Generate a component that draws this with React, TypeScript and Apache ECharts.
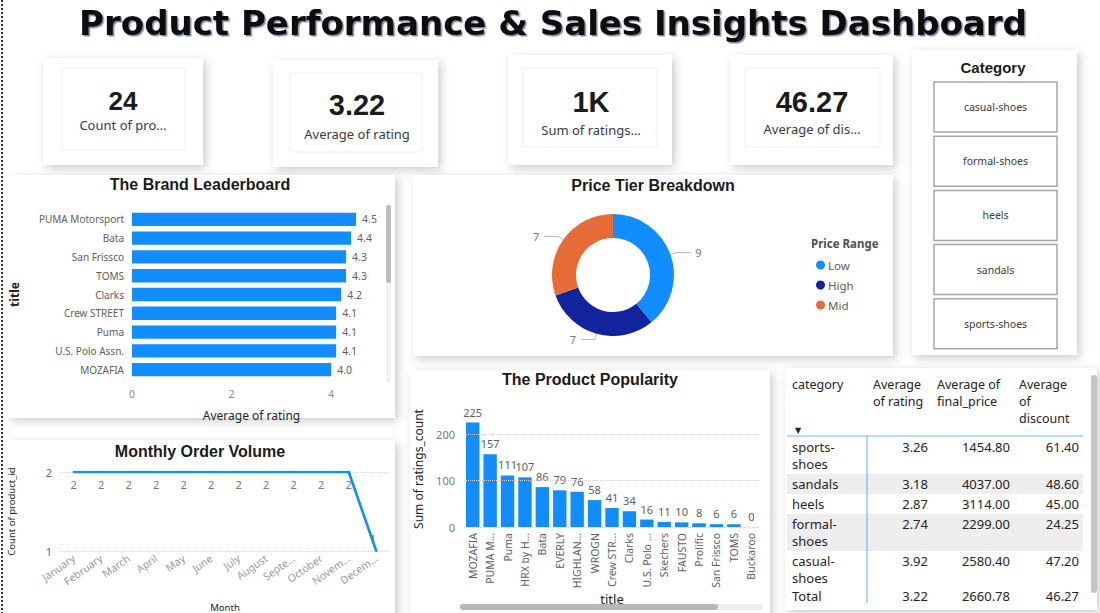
import React, { useEffect, useRef } from "react";
import * as echarts from "echarts";

// ---------- DATA ----------
const dashboardTitle = "Product Performance & Sales Insights Dashboard";

const kpiValues = ["24", "3.22", "1K", "46.27"];
const kpiLabels = ["Count of pro…", "Average of rating", "Sum of ratings…", "Average of dis…"];

const brandNames = ["PUMA Motorsport", "Bata", "San Frissco", "TOMS", "Clarks", "Crew STREET", "Puma", "U.S. Polo Assn.", "MOZAFIA"];
const brandRatings = [4.5, 4.4, 4.3, 4.3, 4.2, 4.1, 4.1, 4.1, 4.0];
const brandTicks = [0, 2, 4];

const priceTiers = ["Low", "High", "Mid"];
const priceTierCounts = [9, 7, 7];

const monthLabels = ["January", "February", "March", "April", "May", "June", "July", "August", "Septe…", "October", "Novem…", "Decem…"];
const monthlyCounts = [2, 2, 2, 2, 2, 2, 2, 2, 2, 2, 2, 1];

const productTitles = ["MOZAFIA", "PUMA M…", "Puma", "HRX by H…", "Bata", "EVERLY", "HIGHLAN…", "WROGN", "Crew STR…", "Clarks", "U.S. Polo …", "Skechers", "FAUSTO", "Prolific", "San Frissco", "TOMS", "Buckaroo"];
const productRatingsCount = [225, 157, 111, 107, 86, 79, 76, 58, 41, 34, 16, 11, 10, 8, 6, 6, 0];
const popularityGridValues = [0, 100, 200];

const slicerCategories = ["casual-shoes", "formal-shoes", "heels", "sandals", "sports-shoes"];

const tableHeaders = ["category", "Average\nof rating", "Average of\nfinal_price", "Average\nof\ndiscount"];
const tableCategories = ["sports-shoes", "sandals", "heels", "formal-shoes", "casual-shoes"];
const tableRating = [3.26, 3.18, 2.87, 2.74, 3.92];
const tablePrice = [1454.8, 4037.0, 3114.0, 2299.0, 2580.4];
const tableDiscount = [61.4, 48.6, 45.0, 24.25, 47.2];
const tableTotals = [3.22, 2660.78, 46.27];

// ---------- STYLE ----------
const F = "'Noto Sans', sans-serif";
const FB = "'Liberation Sans', Arial, sans-serif";
const BLUE = "#118DFF";

function panel(x: number, y: number, w: number, h: number) {
  return {
    type: "rect",
    silent: true,
    z: 0,
    shape: { x, y, width: w, height: h },
    style: { fill: "#ffffff", shadowBlur: 10, shadowColor: "rgba(0,0,0,0.2)", shadowOffsetX: 3, shadowOffsetY: 3 },
  };
}

function txt(x: number, y: number, text: string, o: any = {}) {
  const align = o.align || "center";
  const va = o.va || "middle";
  return {
    type: "text",
    silent: true,
    z: o.z || 10,
    x,
    y,
    style: {
      text,
      fill: o.fill || "#252423",
      fontSize: o.size || 12,
      fontFamily: o.family || F,
      fontWeight: o.weight || "normal",
      align,
      textAlign: align,
      verticalAlign: va,
      textVerticalAlign: va,
      lineHeight: o.lineHeight,
      textShadowColor: o.shadowColor,
      textShadowOffsetX: o.shadowX,
      textShadowOffsetY: o.shadowY,
      textShadowBlur: o.shadowBlur,
    },
  };
}

function buildGraphics() {
  const g: any[] = [];
  // left dotted border
  g.push({ type: "line", silent: true, z: 1, shape: { x1: 2, y1: 0, x2: 2, y2: 613 }, style: { stroke: "#333", lineWidth: 2, lineDash: [2, 2] } });

  // title
  g.push(txt(553, 23, dashboardTitle, { size: 34, family: "'DejaVu Sans', sans-serif", weight: "bold", fill: "#111", shadowColor: "rgba(20,30,80,0.55)", shadowX: 1.5, shadowY: 1.5, shadowBlur: 1 }));

  // KPI cards
  const cards = [
    { x: 43, y: 58, w: 160, h: 107, ix: 62, iy: 68, iw: 123, ih: 82, cx: 123, vy: 101, ly: 125, vs: 26 },
    { x: 273, y: 60, w: 165, h: 107, ix: 290, iy: 73, iw: 132, ih: 79, cx: 357, vy: 105, ly: 134, vs: 29 },
    { x: 508, y: 55, w: 164, h: 110, ix: 523, iy: 68, iw: 134, ih: 79, cx: 591, vy: 102, ly: 130, vs: 29 },
    { x: 730, y: 55, w: 163, h: 110, ix: 745, iy: 68, iw: 135, ih: 79, cx: 812, vy: 102, ly: 129, vs: 29 },
  ];
  cards.forEach((c, i) => {
    g.push(panel(c.x, c.y, c.w, c.h));
    g.push({ type: "rect", silent: true, z: 1, shape: { x: c.ix, y: c.iy, width: c.iw, height: c.ih }, style: { fill: "none", stroke: "#f1f1f1", lineWidth: 1 } });
    g.push(txt(c.cx, c.vy, kpiValues[i], { size: c.vs, family: FB, weight: "bold", fill: "#1b1b1b" }));
    g.push(txt(c.cx, c.ly, kpiLabels[i], { size: 13, fill: "#3b3a39" }));
  });

  // slicer
  g.push(panel(912, 50, 165, 305));
  g.push(txt(993, 67, "Category", { size: 15, family: FB, weight: "bold", fill: "#1b1b1b" }));
  slicerCategories.forEach((c, i) => {
    const y = 82 + i * 54.2;
    g.push({ type: "rect", silent: true, z: 2, shape: { x: 934, y, width: 123, height: 50 }, style: { fill: "#fff", stroke: "#a6a6a6", lineWidth: 1.5 } });
    g.push(txt(995.5, y + 25, c, { size: 10.5, fill: "#3b3a39" }));
  });

  // chart panels
  g.push(panel(8, 175, 387, 243));
  g.push(txt(200, 184, "The Brand Leaderboard", { size: 16, family: FB, weight: "bold", fill: "#1b1b1b" }));
  g.push({ type: "rect", silent: true, z: 2, shape: { x: 386, y: 205, width: 5, height: 178, r: 2.5 }, style: { fill: "#f2f2f2" } });
  g.push({ type: "rect", silent: true, z: 3, shape: { x: 386, y: 205, width: 5, height: 78, r: 2.5 }, style: { fill: "#bdbdbd" } });

  g.push(panel(413, 175, 480, 181));
  g.push(txt(653, 185, "Price Tier Breakdown", { size: 16, family: FB, weight: "bold", fill: "#1b1b1b" }));
  g.push(txt(811, 243, "Price Range", { size: 11.5, weight: "bold", fill: "#505050", align: "left" }));

  g.push(panel(8, 440, 387, 180));
  g.push(txt(200, 451, "Monthly Order Volume", { size: 16, family: FB, weight: "bold", fill: "#1b1b1b" }));

  g.push(panel(410, 370, 360, 250));
  g.push(txt(590, 379, "The Product Popularity", { size: 16, family: FB, weight: "bold", fill: "#1b1b1b" }));
  g.push({ type: "rect", silent: true, z: 2, shape: { x: 460, y: 604, width: 303, height: 6, r: 3 }, style: { fill: "#eeeeee" } });
  g.push({ type: "rect", silent: true, z: 3, shape: { x: 460, y: 604, width: 258, height: 6, r: 3 }, style: { fill: "#b8b8b8" } });

  // table
  g.push(panel(785, 368, 312, 242));
  const colHeadX = [792, 873, 937, 1019];
  const colRightX = [928, 1010, 1079];
  tableHeaders.forEach((h, i) => {
    g.push(txt(colHeadX[i], 376, h, { size: 12.5, fill: "#252423", align: "left", va: "top", lineHeight: 17 }));
  });
  g.push(txt(795, 430, "▼", { size: 8, fill: "#252423", align: "left", family: "'DejaVu Sans', sans-serif" }));

  let top = 437;
  tableCategories.forEach((cat, r) => {
    const lines = cat.replace("-", "-\n").split("\n");
    const h = 20 + (lines.length - 1) * 17;
    if (r % 2 === 1) {
      g.push({ type: "rect", silent: true, z: 2, shape: { x: 787, y: top, width: 296, height: h }, style: { fill: "#efeeef" } });
    }
    lines.forEach((ln, k) => {
      g.push(txt(792, top + 10 + k * 17, ln, { size: 13, fill: "#252423", align: "left" }));
    });
    const vals = [tableRating[r], tablePrice[r], tableDiscount[r]];
    vals.forEach((v, c) => {
      g.push(txt(colRightX[c], top + 10, v.toFixed(2), { size: 13, fill: "#252423", align: "right" }));
    });
    top += h;
  });
  // total row (covers overflow)
  g.push({ type: "rect", silent: true, z: 11, shape: { x: 786, y: 587, width: 300, height: 20 }, style: { fill: "#ffffff" } });
  g.push(txt(792, 596, "Total", { size: 13, fill: "#252423", align: "left", z: 12 }));
  tableTotals.forEach((v, c) => g.push(txt(colRightX[c], 596, v.toFixed(2), { size: 13, fill: "#252423", align: "right", z: 12 })));
  g.push({ type: "line", silent: true, z: 13, shape: { x1: 787, y1: 436, x2: 1083, y2: 436 }, style: { stroke: "#7ab8f0", lineWidth: 1.2 } });
  g.push({ type: "line", silent: true, z: 13, shape: { x1: 867, y1: 436, x2: 867, y2: 603 }, style: { stroke: "#7ab8f0", lineWidth: 1.2 } });
  g.push({ type: "rect", silent: true, z: 13, shape: { x: 1091, y: 375, width: 6, height: 218, r: 3 }, style: { fill: "#c4c4c4" } });

  return g;
}

export default function App() {
  const ref = useRef<HTMLDivElement>(null);

  useEffect(() => {
    if (!ref.current) return;
    const chart = echarts.init(ref.current, undefined, { renderer: "svg" });

    const axisNameStyle = { color: "#252423", fontFamily: F };

    const option: any = {
      animation: false,
      backgroundColor: "#ffffff",
      textStyle: { fontFamily: F },
      graphic: { elements: buildGraphics() },
      legend: {
        data: priceTiers,
        orient: "vertical",
        left: 811,
        top: 254,
        icon: "circle",
        itemWidth: 9,
        itemHeight: 9,
        itemGap: 8,
        textStyle: { fontSize: 11.5, color: "#605E5C", fontFamily: F, padding: [0, 0, 0, -2] },
      },
      grid: [
        { left: 132, top: 210, width: 239, height: 169 },
        { left: 60, top: 472, width: 330, height: 83 },
        { left: 464, top: 411, width: 296, height: 116 },
      ],
      xAxis: [
        {
          type: "value",
          gridIndex: 0,
          min: 0,
          max: 4.8,
          interval: 2,
          axisLine: { show: false },
          axisTick: { show: false },
          splitLine: { show: false },
          axisLabel: { color: "#8a8a8a", fontSize: 10.5, margin: 9, showMaxLabel: false, formatter: (v: number) => (brandTicks.indexOf(v) >= 0 ? String(v) : "") },
          name: "Average of rating",
          nameLocation: "middle",
          nameGap: 30,
          nameTextStyle: { ...axisNameStyle, fontSize: 12 },
        },
        {
          type: "category",
          gridIndex: 1,
          data: monthLabels,
          boundaryGap: true,
          axisLine: { show: false },
          axisTick: { show: false },
          axisLabel: { rotate: 35, interval: 0, color: "#9a9a9a", fontSize: 10.5, margin: 6 },
          name: "Month",
          nameLocation: "middle",
          nameGap: 51,
          nameTextStyle: { ...axisNameStyle, fontSize: 9.5 },
        },
        {
          type: "category",
          gridIndex: 2,
          data: productTitles,
          axisLine: { show: false },
          axisTick: { show: false },
          axisLabel: { rotate: 90, interval: 0, color: "#605E5C", fontSize: 10.5, margin: 6 },
          name: "title",
          nameLocation: "middle",
          nameGap: 64,
          nameTextStyle: { ...axisNameStyle, fontSize: 13 },
        },
      ],
      yAxis: [
        {
          type: "category",
          gridIndex: 0,
          data: brandNames,
          inverse: true,
          axisLine: { show: false },
          axisTick: { show: false },
          axisLabel: { color: "#605E5C", fontSize: 10, margin: 8 },
          name: "title",
          nameLocation: "middle",
          nameGap: 112,
          nameTextStyle: { ...axisNameStyle, fontSize: 12, fontWeight: "bold" },
        },
        {
          type: "value",
          gridIndex: 1,
          min: 1,
          max: 2,
          interval: 1,
          axisLine: { show: false },
          axisTick: { show: false },
          axisLabel: { color: "#666", fontSize: 11, margin: 8 },
          splitLine: { show: true, lineStyle: { type: "dotted", color: "#d3d3d3" } },
          name: "Count of product_id",
          nameLocation: "middle",
          nameGap: 44,
          nameTextStyle: { ...axisNameStyle, fontSize: 9.5 },
        },
        {
          type: "value",
          gridIndex: 2,
          min: 0,
          max: 250,
          interval: 100,
          axisLine: { show: false },
          axisTick: { show: false },
          splitLine: { show: false },
          axisLabel: { color: "#777", fontSize: 11, margin: 9, showMaxLabel: false },
          name: "Sum of ratings_count",
          nameLocation: "middle",
          nameGap: 40,
          nameTextStyle: { ...axisNameStyle, fontSize: 12 },
        },
      ],
      series: [
        {
          type: "bar",
          name: "Average of rating",
          xAxisIndex: 0,
          yAxisIndex: 0,
          data: brandRatings,
          barCategoryGap: "29%",
          itemStyle: { color: BLUE },
          label: { show: true, position: "right", distance: 6, color: "#605E5C", fontSize: 10.5, formatter: (p: any) => Number(p.value).toFixed(1) },
        },
        {
          type: "line",
          name: "Count of product_id",
          xAxisIndex: 1,
          yAxisIndex: 1,
          data: monthlyCounts.map((v, i) => (i === monthlyCounts.length - 1 ? { value: v, label: { position: "top", offset: [-3, 0] } } : v)),
          symbol: "circle",
          symbolSize: 2,
          itemStyle: { color: BLUE },
          lineStyle: { color: BLUE, width: 2.6 },
          label: { show: true, position: "bottom", distance: 6, color: "#777", fontSize: 11 },
        },
        {
          type: "bar",
          name: "Sum of ratings_count",
          xAxisIndex: 2,
          yAxisIndex: 2,
          data: productRatingsCount,
          barCategoryGap: "23%",
          itemStyle: { color: BLUE },
          label: { show: true, position: "top", distance: 5, color: "#605E5C", fontSize: 11 },
          markLine: {
            silent: true,
            symbol: "none",
            label: { show: false },
            lineStyle: { type: "dotted", color: "#cfcfcf", width: 1 },
            data: popularityGridValues.map((v) => ({ yAxis: v })),
          },
        },
        {
          type: "pie",
          name: "Price Range",
          center: [613, 275],
          radius: [37, 61],
          startAngle: 90,
          clockwise: true,
          data: priceTiers.map((n, i) => ({ name: n, value: priceTierCounts[i] })),
          color: [BLUE, "#12239E", "#E66C37"],
          label: { show: true, formatter: "{c}", color: "#777", fontSize: 11 },
          labelLine: { show: true, length: 6, length2: 14, lineStyle: { color: "#b5b5b5", width: 1 } },
        },
      ],
    };

    chart.setOption(option);
    return () => chart.dispose();
  }, []);

  return <div ref={ref} style={{ position: "absolute", left: 0, top: 0, width: 1100, height: 613 }} />;
}
